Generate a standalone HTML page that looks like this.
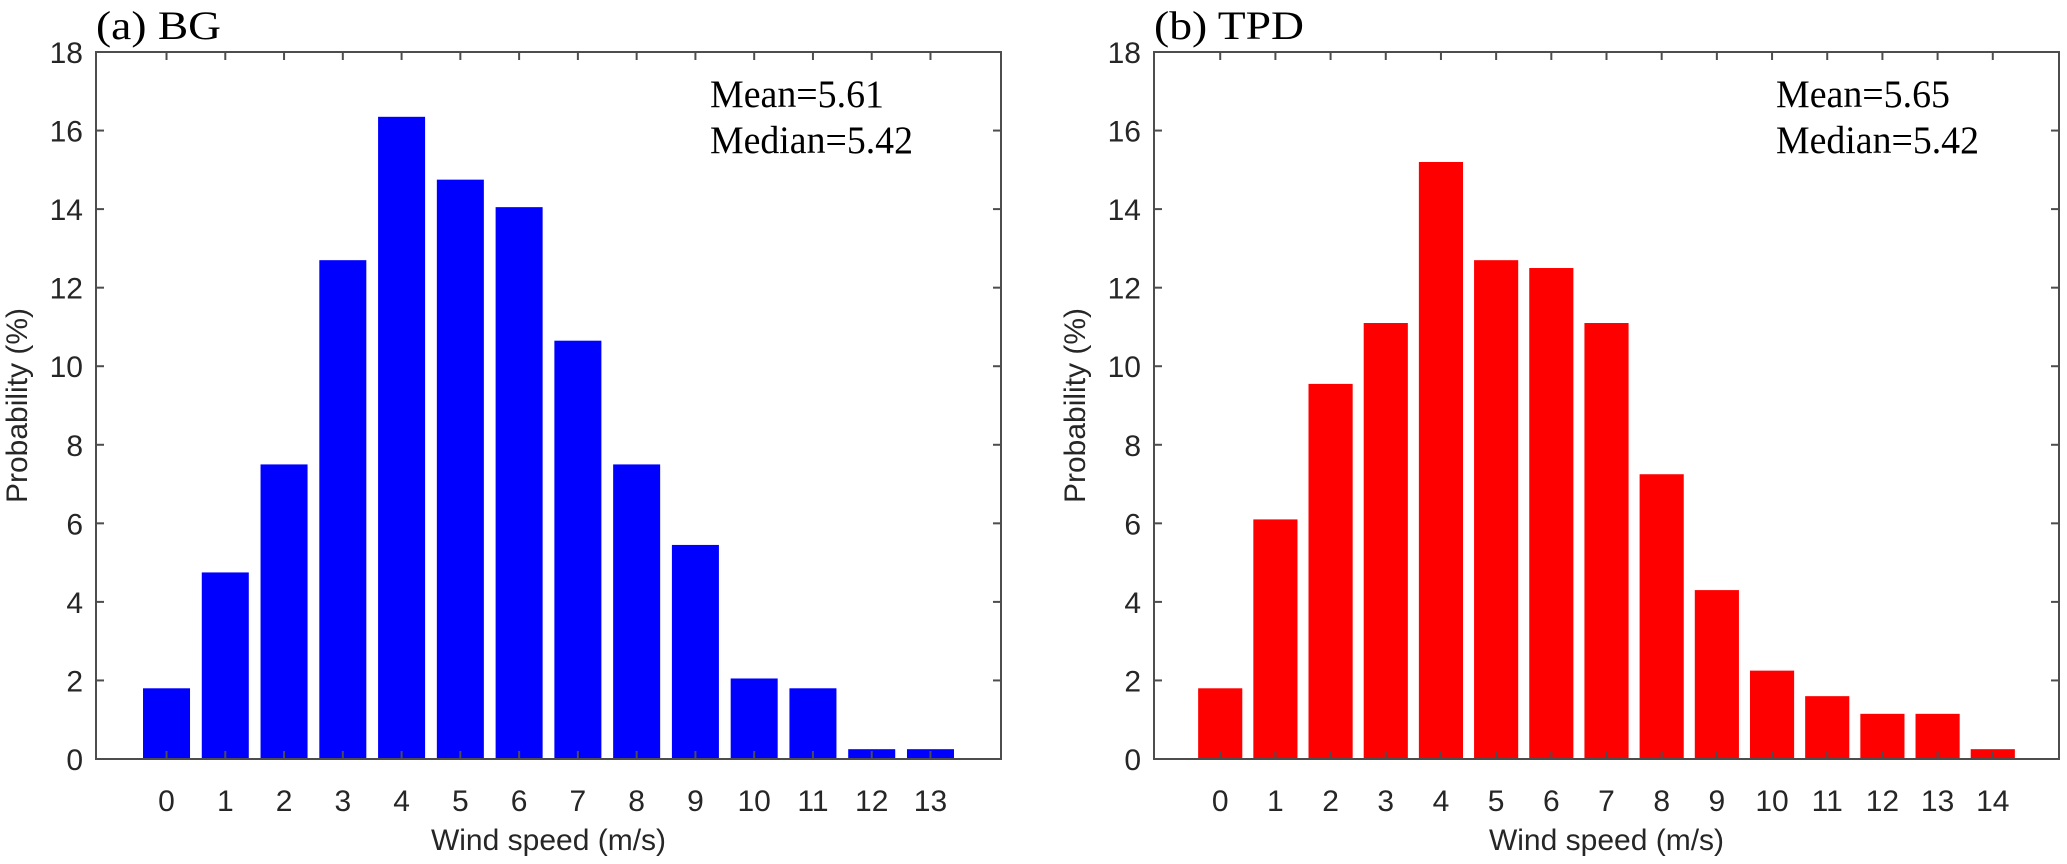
<!DOCTYPE html>
<html><head><meta charset="utf-8"><style>
body{margin:0;background:#fff}
svg{display:block}
.tk{font-family:"Liberation Sans",sans-serif;font-size:30px;fill:#262626}
.ser{font-family:"Liberation Serif",serif;fill:#000}
</style></head><body>
<svg id="chart" width="2067" height="864" viewBox="0 0 2067 864"></svg>
<script>
const catsA = [0,1,2,3,4,5,6,7,8,9,10,11,12,13];
const valsA = [1.8,4.75,7.5,12.7,16.35,14.75,14.05,10.65,7.5,5.45,2.05,1.8,0.25,0.25];
const catsB = [0,1,2,3,4,5,6,7,8,9,10,11,12,13,14];
const valsB = [1.8,6.1,9.55,11.1,15.2,12.7,12.5,11.1,7.25,4.3,2.25,1.6,1.15,1.15,0.25];
const yTicks = [0,2,4,6,8,10,12,14,16,18];
const titles = ["(a) BG","(b) TPD"];
const statsA = ["Mean=5.61","Median=5.42"];
const statsB = ["Mean=5.65","Median=5.42"];

const NS="http://www.w3.org/2000/svg";
const svg=document.getElementById('chart');
function mk(tag,attrs,parent){const e=document.createElementNS(NS,tag);for(const k in attrs)e.setAttribute(k,attrs[k]);(parent||svg).appendChild(e);return e;}

function panel(id,L,R,xmin,xmax,cats,vals,color,title,titleW,stats,statX){
  const T=52,B=759,ymax=18;
  const g=mk('g',{});
  
  
  const xs=v=>L+(v-xmin)/(xmax-xmin)*(R-L);
  const ys=v=>B-v/ymax*(B-T);
  const bw=0.8*(xs(1)-xs(0));
  cats.forEach((c,i)=>{
    const r=mk('rect',{x:xs(c)-bw/2,y:ys(vals[i]),width:bw,height:B-ys(vals[i]),fill:color},g);
    
    
  });
  const ax=mk('g',{stroke:'#4d4d4d','stroke-width':2,fill:'none'},g);
  
  
  mk('rect',{x:L,y:T,width:R-L,height:B-T},ax);
  cats.forEach(c=>{
    mk('line',{x1:xs(c),x2:xs(c),y1:B,y2:B-8},ax);
    mk('line',{x1:xs(c),x2:xs(c),y1:T,y2:T+8},ax);
    const t=mk('text',{x:xs(c),y:B+52,'text-anchor':'middle',class:'tk'},g);
    t.textContent=c;
    
    
  });
  yTicks.forEach(v=>{
    mk('line',{x1:L,x2:L+8,y1:ys(v),y2:ys(v)},ax);
    mk('line',{x1:R,x2:R-8,y1:ys(v),y2:ys(v)},ax);
    const t=mk('text',{x:L-13,y:ys(v)+11,'text-anchor':'end',class:'tk'},g);
    t.textContent=v;
    
    
  });
  const xl=mk('text',{x:(L+R)/2,y:850,'text-anchor':'middle',class:'tk','font-size':'33'},g);
  xl.textContent='Wind speed (m/s)';
  
  
  const yl=mk('text',{x:0,y:0,'text-anchor':'middle',class:'tk','font-size':'33',transform:`translate(${L-69},${(T+B)/2}) rotate(-90)`},g);
  yl.textContent='Probability (%)';
  
  
  const tt=mk('text',{x:L,y:39,class:'ser','font-size':'40',textLength:titleW,lengthAdjust:'spacingAndGlyphs'},g);
  tt.textContent=title;
  
  
  const sw=[174,203];
  stats.forEach((s,i)=>{
    const t=mk('text',{x:statX,y:107+i*46,class:'ser','font-size':'39',textLength:sw[i],lengthAdjust:'spacingAndGlyphs'},g);
    t.textContent=s;
    
    
  });
}
panel('panel-bg',96,1001,-1.2,14.2,catsA,valsA,'#0000ff',titles[0],125,statsA,710);
panel('panel-tpd',1154,2059,-1.2,15.2,catsB,valsB,'#ff0000',titles[1],150,statsB,1776);
</script>
</body></html>
